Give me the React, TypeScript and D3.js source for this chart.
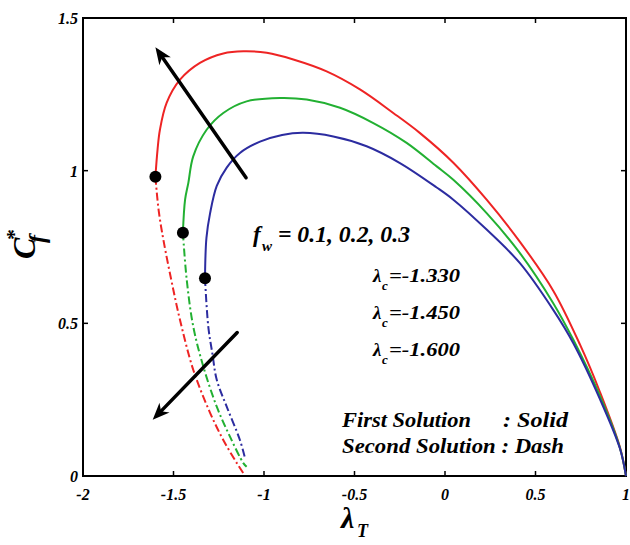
import React from "react";
import * as d3 from "d3";

// ---------- data ----------
const xTickValues = [-2, -1.5, -1, -0.5, 0, 0.5, 1];
const xTickLabels = ["-2", "-1.5", "-1", "-0.5", "0", "0.5", "1"];
const yTickValues = [0, 0.5, 1, 1.5];
const yTickLabels = ["0", "0.5", "1", "1.5"];

const seriesNames = ["fw=0.1", "fw=0.2", "fw=0.3"];
const seriesColors = ["#ee2424", "#22b032", "#2c2ca0"];

// first solutions (solid): [lambdaT, Cf]
const firstRed: [number, number][] = [
  [-1.6, 0.98], [-1.588, 1.07], [-1.575, 1.134], [-1.538, 1.222], [-1.464, 1.298],
  [-1.354, 1.353], [-1.225, 1.384], [-1.114, 1.391], [-0.985, 1.386], [-0.838, 1.364],
  [-0.654, 1.325], [-0.47, 1.266], [-0.286, 1.189], [-0.138, 1.123], [0.046, 1.026],
  [0.23, 0.905], [0.414, 0.767], [0.598, 0.607], [0.746, 0.43], [0.856, 0.275],
  [0.967, 0.093], [1.0, 0.0],
];
const firstGreen: [number, number][] = [
  [-1.448, 0.797], [-1.436, 0.905], [-1.418, 0.96], [-1.391, 1.047], [-1.317, 1.134],
  [-1.225, 1.189], [-1.096, 1.227], [-0.912, 1.238], [-0.764, 1.233], [-0.58, 1.206],
  [-0.396, 1.156], [-0.212, 1.091], [-0.046, 1.014], [0.046, 0.97], [0.23, 0.861],
  [0.414, 0.73], [0.598, 0.566], [0.709, 0.446], [0.856, 0.262], [0.967, 0.091], [1.0, 0.0],
];
const firstBlue: [number, number][] = [
  [-1.326, 0.648], [-1.318, 0.78], [-1.298, 0.86], [-1.261, 0.95], [-1.206, 1.01],
  [-1.133, 1.058], [-1.022, 1.095], [-0.9, 1.117], [-0.783, 1.124], [-0.617, 1.112],
  [-0.433, 1.08], [-0.249, 1.025], [-0.046, 0.945], [0.046, 0.905], [0.23, 0.807],
  [0.414, 0.697], [0.598, 0.544], [0.709, 0.435], [0.856, 0.252], [0.967, 0.089], [1.0, 0.0],
];

// second solutions (dash-dot)
const secondRed: [number, number][] = [
  [-1.6, 0.98], [-1.582, 0.87], [-1.556, 0.774], [-1.501, 0.61], [-1.464, 0.511],
  [-1.391, 0.348], [-1.298, 0.207], [-1.225, 0.118], [-1.151, 0.043], [-1.115, 0.01],
];
const secondGreen: [number, number][] = [
  [-1.448, 0.797], [-1.427, 0.643], [-1.391, 0.49], [-1.335, 0.358], [-1.261, 0.227],
  [-1.188, 0.129], [-1.114, 0.042], [-1.096, 0.03],
];
const secondBlue: [number, number][] = [
  [-1.326, 0.648], [-1.308, 0.49], [-1.285, 0.4], [-1.261, 0.315], [-1.206, 0.227],
  [-1.133, 0.118], [-1.105, 0.059],
];

const firstSolutions = [firstRed, firstGreen, firstBlue];
const secondSolutions = [secondRed, secondGreen, secondBlue];
const turningPoints: [number, number][] = [[-1.6, 0.98], [-1.448, 0.797], [-1.326, 0.648]];

// arrows: [from, to] in data coordinates
const arrows: [[number, number], [number, number]][] = [
  [[-1.099, 0.977], [-1.6, 1.404]],
  [[-1.148, 0.47], [-1.615, 0.184]],
];

const lambdaCLabels = ["-1.330", "-1.450", "-1.600"];

// ---------- chart ----------
const W = 630;
const H = 545;
const txt: React.CSSProperties = { fontFamily: "Liberation Serif", fontWeight: "bold", fontStyle: "italic" };

export default function App() {
  const x = d3.scaleLinear().domain([-2, 1]).range([83, 626]);
  const y = d3.scaleLinear().domain([0, 1.5]).range([476, 18]);
  const line = d3
    .line<[number, number]>()
    .x((d) => x(d[0]))
    .y((d) => y(d[1]))
    .curve(d3.curveCatmullRom.alpha(0.5));

  const x0 = x(-2), x1 = x(1), y0 = y(0), y1 = y(1.5);
  const tickLen = 5;

  const arrowShapes = arrows.map(([from, to]) => {
    const fx = x(from[0]), fy = y(from[1]);
    const tx = x(to[0]), ty = y(to[1]);
    const dx = tx - fx, dy = ty - fy;
    const len = Math.hypot(dx, dy);
    const ux = dx / len, uy = dy / len;
    const hl = 17, hw = 7;
    const bx = tx - ux * hl, by = ty - uy * hl;
    const pts = [
      [tx, ty],
      [bx - uy * hw, by + ux * hw],
      [tx - ux * (hl - 5), ty - uy * (hl - 5)],
      [bx + uy * hw, by - ux * hw],
    ];
    return { fx, fy, lx: tx - ux * 10, ly: ty - uy * 10, pts };
  });

  return (
    <svg
      width={W}
      height={H}
      style={{ position: "absolute", left: 0, top: 0, background: "#fff" }}
    >
      <rect x={0} y={0} width={W} height={H} fill="#fff" />
      {/* frame */}
      <rect x={x0} y={y1} width={x1 - x0} height={y0 - y1} fill="none" stroke="#000" strokeWidth={2} />
      {/* ticks */}
      {xTickValues.slice(1, -1).map((v, i) => (
        <g key={"xt" + i}>
          <line x1={x(v)} x2={x(v)} y1={y0} y2={y0 - tickLen} stroke="#000" strokeWidth={1.5} />
          <line x1={x(v)} x2={x(v)} y1={y1} y2={y1 + tickLen} stroke="#000" strokeWidth={1.5} />
        </g>
      ))}
      {yTickValues.slice(1, -1).map((v, i) => (
        <g key={"yt" + i}>
          <line x1={x0} x2={x0 + tickLen} y1={y(v)} y2={y(v)} stroke="#000" strokeWidth={1.5} />
          <line x1={x1} x2={x1 - tickLen} y1={y(v)} y2={y(v)} stroke="#000" strokeWidth={1.5} />
        </g>
      ))}
      {/* tick labels */}
      {xTickValues.map((v, i) => (
        <text key={"xl" + i} x={x(v)} y={500} textAnchor="middle" fontSize={16} style={txt}>
          {xTickLabels[i]}
        </text>
      ))}
      {yTickValues.map((v, i) => (
        <text key={"yl" + i} x={78} y={y(v) + 6} textAnchor="end" fontSize={16} style={txt}>
          {yTickLabels[i]}
        </text>
      ))}
      {/* axis titles */}
      <text x={341} y={528} fontSize={30} style={txt}>
        λ
        <tspan x={357} y={537} fontSize={18}>T</tspan>
      </text>
      <g transform="translate(35,259) rotate(-90)">
        <text x={0} y={0} fontSize={32} style={txt}>C</text>
        <text x={19} y={-14} fontSize={22} style={{ ...txt, fontStyle: "normal" }}>*</text>
        <text x={16} y={10} fontSize={24} style={txt}>f</text>
      </g>

      {/* curves */}
      {firstSolutions.map((s, i) => (
        <path key={"f" + i} d={line(s) || ""} fill="none" stroke={seriesColors[i]} strokeWidth={2} />
      ))}
      {secondSolutions.map((s, i) => (
        <path
          key={"s" + i}
          d={line(s) || ""}
          fill="none"
          stroke={seriesColors[i]}
          strokeWidth={2}
          strokeDasharray="8,3,2,3"
        />
      ))}
      {turningPoints.map((p, i) => (
        <circle key={"tp" + i} cx={x(p[0])} cy={y(p[1])} r={6} fill="#000" />
      ))}

      {/* arrows */}
      {arrowShapes.map((a, i) => (
        <g key={"ar" + i}>
          <line x1={a.fx} y1={a.fy} x2={a.lx} y2={a.ly} stroke="#000" strokeWidth={3.5} strokeLinecap="round" />
          <polygon points={a.pts.map((p) => p.join(",")).join(" ")} fill="#000" />
        </g>
      ))}

      {/* annotations */}
      <text x={253} y={242} fontSize={23} style={txt}>
        f
        <tspan x={262} y={251} fontSize={15}>w</tspan>
        <tspan x={272} y={242} textLength={138} lengthAdjust="spacingAndGlyphs">{" = 0.1, 0.2, 0.3"}</tspan>
      </text>
      {lambdaCLabels.map((t, i) => (
        <text key={"lc" + i} x={373} y={282 + i * 37} fontSize={19} style={txt}>
          λ
          <tspan x={382} y={290 + i * 37} fontSize={13}>c</tspan>
          <tspan x={389} y={282 + i * 37} textLength={71} lengthAdjust="spacingAndGlyphs">{"=-" + t.slice(1)}</tspan>
        </text>
      ))}
      <text x={342} y={427} fontSize={22} style={txt} textLength={129} lengthAdjust="spacingAndGlyphs">
        First Solution
      </text>
      <text x={503} y={427} fontSize={22} style={txt} textLength={65} lengthAdjust="spacingAndGlyphs">
        : Solid
      </text>
      <text x={342} y={453} fontSize={22} style={txt} textLength={222} lengthAdjust="spacingAndGlyphs">
        Second Solution : Dash
      </text>
    </svg>
  );
}
